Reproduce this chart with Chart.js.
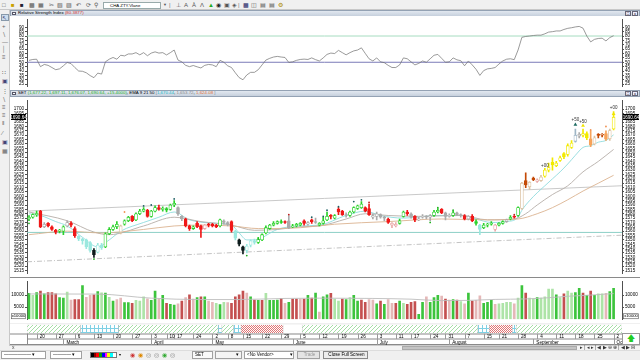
<!DOCTYPE html>
<html>
<head>
<meta charset="utf-8">
<script src="https://cdn.jsdelivr.net/npm/chart.js@4.4.0/dist/chart.umd.min.js"></script>
<style>
* { box-sizing: border-box; }
body { margin: 0; width: 640px; height: 360px; overflow: hidden; background: #f0f0f0; position: relative;
       font-family: "Liberation Sans", Arial, sans-serif; }
.a { position: absolute; }
canvas { position: absolute; background: #fff; }
.title { position: absolute; left: 10px; width: 630px; background: linear-gradient(#e2e8f0, #c6d0dd); border: 1px solid #94a2b4;
         font-size: 4.4px; line-height: 4.6px; white-space: nowrap; overflow: hidden; padding-left: 7px; }
.title .ic { position: absolute; left: 1px; top: 0.5px; width: 4px; height: 3.5px; border: 1px solid #556; background: #fff; }
.title .wb { position: absolute; top: 0px; width: 6px; height: 4.5px; border: 1px solid #667; background: #eef; font-size: 4px; line-height: 3px; text-align: center; }
.tb { position: absolute; top: 2px; font-size: 6px; line-height: 6px; color: #555; }
.lb { position: absolute; left: 2px; font-size: 6px; line-height: 6px; color: #666; }
.bt { position: absolute; top: 351px; height: 8px; border: 1px solid #a0a0a0; background: #fff; font-size: 4.5px; line-height: 6px; padding-left: 2px; white-space: nowrap; overflow: hidden; }
</style>
</head>
<body>

<!-- top toolbar -->
<div class="a" style="left:0;top:0;width:640px;height:10px;background:#f0f0f0;border-bottom:1px solid #c8c8c8"></div>
<span class="tb" style="left:2px">&#9633;</span>
<span class="tb" style="left:11px;color:#c9a000">&#9632;</span>
<span class="tb" style="left:20px;color:#223">&#9632;</span>
<span class="tb" style="left:29px">&#9641;</span>
<span class="tb" style="left:38px">&#9638;</span>
<span class="tb" style="left:49px">&#9986;</span>
<span class="tb" style="left:57px">&#9639;</span>
<span class="tb" style="left:66px">&#9640;</span>
<span class="tb" style="left:76px">&#8630;</span>
<span class="tb" style="left:86px">&#10227;</span>
<span class="tb" style="left:94px">&#9906;</span>
<div class="a" style="left:103px;top:2px;width:58px;height:7px;background:#fff;border:1px solid #9aa;font-size:4.4px;line-height:5px;padding-left:6px">CHA ZTY.Vlane</div>
<span class="tb" style="left:163px;font-size:4px">&#9660;</span>
<span class="tb" style="left:169px;color:#777">|</span>
<span class="tb" style="left:176px">&#8869;</span>
<span class="tb" style="left:184px">A</span>
<span class="tb" style="left:192px">&#192;</span>
<span class="tb" style="left:200px">&#923;</span>
<span class="tb" style="left:208px;color:#2a2">&#9650;</span>
<span class="tb" style="left:216px;color:#222">&#9673;</span>
<span class="tb" style="left:224px">&#9635;</span>
<span class="tb" style="left:232px">&#9672;</span>
<span class="tb" style="left:238px;color:#777">|</span>
<span class="tb" style="left:243px;color:#226">&#9641;</span>
<span class="tb" style="left:251px">&#9707;</span>
<span class="tb" style="left:260px">&#9636;</span>
<span class="tb" style="left:269px">&#9636;</span>
<span class="tb" style="left:278px;color:#a80">&#9881;</span>

<!-- left toolbar -->
<div class="a" style="left:0;top:10px;width:10px;height:336px;background:#f0f0f0;border-right:1px solid #c8c8c8"></div>
<div class="a" style="left:1px;top:14px;width:8px;height:7px;background:#cde;border:1px solid #89a"></div>
<span class="lb" style="top:15px;color:#336">&#8598;</span>
<span class="lb" style="top:23px">+</span>
<span class="lb" style="top:31px">&#8726;</span>
<span class="lb" style="top:39px">&#8212;</span>
<span class="lb" style="top:46px">&#9474;</span>
<span class="lb" style="top:54px">&#8801;</span>
<span class="lb" style="top:69px">&#8759;</span>
<span class="lb" style="top:78px;color:#447">&#9635;</span>
<span class="lb" style="top:88px">&#8942;</span>
<span class="lb" style="top:96px">&#8726;</span>
<span class="lb" style="top:104px">&#8801;</span>
<span class="lb" style="top:112px">&#8801;</span>
<span class="lb" style="top:120px">&#8214;</span>
<span class="lb" style="top:130px">&#8725;</span>
<span class="lb" style="top:139px;color:#447">&#9635;</span>
<span class="lb" style="top:148px">&#9638;</span>

<!-- panel titles -->
<div class="title" style="top:10px;height:6.5px"><span class="ic"></span>Relative Strength Index <span style="color:#d03030">(80.3877)</span>
  <span class="wb" style="left:614px">&#9633;</span><span class="wb" style="left:621px">x</span></div>
<div class="title" style="top:90px;height:7px"><span class="ic"></span>SET <span style="color:#22b022">(1,677.22, 1,697.11, 1,676.07, 1,690.64, +15.4000)</span>, EMA 9 21 50 <span style="color:#888">[</span><span style="color:#20b8c8">1,670.44</span>, <span style="color:#888">1,653.72</span>, <span style="color:#e07030">1,624.08</span> <span style="color:#888">]</span>
  <span class="wb" style="left:614px">&#9633;</span><span class="wb" style="left:621px">x</span></div>

<canvas id="rsi" width="630" height="74" style="left:10px;top:16px"></canvas>
<canvas id="price" width="630" height="180" style="left:10px;top:97px"></canvas>
<div class="a" style="left:10px;top:277px;width:630px;height:1px;background:#8a8a8a"></div>
<canvas id="vol" width="630" height="45" style="left:10px;top:278px"></canvas>
<canvas id="strip" width="630" height="21" style="left:10px;top:324px"></canvas>
<div class="a" style="left:622px;top:333px;width:18px;height:12px;background:#fff;border:1px solid #999;color:#22cc22;font-size:8px;line-height:10px;text-align:center">&#129093;</div>

<!-- scroll bar -->
<div class="a" style="left:10px;top:345px;width:630px;height:5px;background:#f4f4f4;border-top:1px solid #ccc"></div>
<span class="a" style="left:12px;top:344px;font-size:5px;color:#444">x</span>
<div class="a" style="left:402px;top:346px;width:175px;height:3.5px;background:#c4c4c4;border:1px solid #aaa"></div>
<div class="a" style="left:580px;top:344.5px;font-size:4.5px;color:#333;letter-spacing:1.2px">&#9656;|&#9666;&#9656;|&#9664;&#9654;&#8854;&#8853;|&#9664;&#9654;&#8863;</div>

<!-- bottom toolbar -->
<div class="a" style="left:0;top:350px;width:640px;height:10px;background:#f0f0f0;border-top:1px solid #ddd"></div>
<div class="bt" style="left:1px;width:45px">&#8212;&#8212;&#8212;&#8212;&#8212;&#8212; &#9662;</div>
<div class="bt" style="left:50px;width:32px">&#8212;&#8212;&#8212;&#8212; &#9662;</div>
<div class="a" style="left:90px;top:352px;width:27px;height:6px;background:linear-gradient(90deg,#000 0 11%,#800 11% 22%,#f00 22% 33%,#0a0 33% 44%,#00f 44% 55%,#f0f 55% 66%,#ff0 66% 77%,#0ff 77% 88%,#fff 88%);border:1px solid #777"></div>
<span class="a" style="left:119px;top:352px;font-size:4px">&#9662;</span>
<span class="a" style="left:130px;top:351px;font-size:6px;letter-spacing:3px;color:#c33">&#9673;<span style="color:#d80">&#9673;</span><span style="color:#888">&#9678;&#9678;</span><span style="color:#3a3">&#9673;</span><span style="color:#888">&#9678;</span></span>
<div class="bt" style="left:192px;width:21px;background:#fafafa">SET</div>
<div class="bt" style="left:215px;width:27px;background:#f4f4f4;text-align:right;padding-right:2px">&#9662;</div>
<div class="bt" style="left:244px;width:50px">&lt;No Vendor&gt; <span style="float:right">&#9662;</span></div>
<div class="bt" style="left:297px;width:23px;background:#e4e4e4;color:#999;text-align:center">Trade</div>
<div class="bt" style="left:323px;width:45px;background:#ececec;border-color:#888;text-align:center;font-size:4.6px">Close Full Screen</div>

<script>
// ---- data (SET index, daily, 16 Feb - 2 Oct) ----
const rsiVals = [
  52.2, 53.2, 53.5, 45, 47.5, 46.5, 44, 41.5, 42.5, 46,
  49.8, 48.5, 44, 40, 39.7, 38, 34.8, 32.4, 37.6, 36.5,
  50.5, 53.5, 55.5, 53.5, 58, 57.3, 59.5, 59.5, 61, 58.5,
  61, 57.5, 60.5, 61.9, 60.5, 61, 58.4, 61, 64, 52.5,
  50.5, 46.5, 45, 46.3, 44.8, 43.5, 46.5, 47.5, 47, 45,
  52.2, 50, 46, 44, 38, 32.5, 30, 35.5, 38.5, 38.5,
  41.5, 47, 52.5, 54.5, 56, 56.7, 56, 55.5, 49.8, 50.5,
  52.2, 53.2, 53.6, 53.2, 55, 53, 51.5, 55, 59, 60.5,
  60, 63.6, 61, 58.5, 61, 63, 64, 66.5, 60.2, 54,
  51.5, 55, 50.5, 49.5, 46.5, 44, 44, 47, 55, 54,
  50.5, 47, 48.7, 51.5, 50, 54, 58, 59, 54.5, 50,
  50.5, 55, 52.8, 51.8, 46, 51.5, 47, 42, 35, 40.5,
  42.5, 43, 44, 48, 51.5, 53.5, 54, 53, 64, 78.5,
  79.5, 80, 80.6, 81, 81, 82.5, 84.5, 85, 85.8, 85.8,
  87.5, 88.8, 89.5, 90.4, 91, 89, 79.9, 73.3, 76.2, 77.2,
  77.5, 74.4, 78.2, 80.39
];
const rsiUpper = 80;
const rsiMid = 50;

const openP = [
  1574, 1576, 1579, 1583, 1565, 1569, 1565, 1561, 1560, 1560,
  1566, 1569, 1563, 1554, 1551, 1550, 1547, 1538, 1536, 1544,
  1542, 1557, 1562, 1565, 1559, 1568, 1572, 1577, 1573, 1580,
  1583, 1584, 1577, 1583, 1587, 1585, 1586, 1585, 1590, 1587,
  1577, 1574, 1566, 1563, 1569, 1566, 1563, 1568, 1568, 1567,
  1566, 1572, 1570, 1571, 1560, 1550, 1542, 1538, 1544, 1549,
  1547, 1550, 1558, 1563, 1567, 1569, 1571, 1571, 1572, 1565,
  1566, 1567, 1572, 1568, 1573, 1571, 1567, 1569, 1573, 1578,
  1575, 1585, 1583, 1579, 1578, 1582, 1586, 1587, 1587, 1586,
  1576, 1577, 1579, 1576, 1574, 1567, 1566, 1569, 1577, 1582,
  1580, 1577, 1573, 1576, 1577, 1576, 1578, 1582, 1585, 1581,
  1577, 1578, 1581, 1579, 1578, 1574, 1577, 1571, 1567, 1564,
  1567, 1568, 1562, 1567, 1569, 1571, 1574, 1577, 1578, 1586,
  1618, 1611, 1621, 1617, 1618, 1623, 1630, 1639, 1635, 1641,
  1649, 1648, 1656, 1663, 1669, 1670, 1672, 1666, 1660, 1671,
  1670, 1672, 1666, 1677.22
];
const highP = [
  1578, 1580, 1583, 1584, 1570, 1570, 1566, 1562, 1562, 1566,
  1572, 1571, 1565, 1555, 1552, 1551, 1548, 1540, 1546, 1546,
  1558, 1564, 1567, 1571, 1567, 1573, 1577, 1578, 1581, 1585,
  1587, 1585, 1584, 1589, 1590, 1588, 1587, 1591, 1595, 1588,
  1578, 1575, 1567, 1566, 1571, 1567, 1568, 1569, 1569, 1568,
  1574, 1573, 1571, 1572, 1561, 1551, 1543, 1545, 1550, 1551,
  1553, 1557, 1566, 1568, 1571, 1572, 1573, 1572, 1578, 1568,
  1569, 1570, 1573, 1571, 1574, 1575, 1570, 1576, 1582, 1579,
  1579, 1587, 1584, 1581, 1583, 1588, 1590, 1594, 1588, 1591,
  1580, 1582, 1580, 1577, 1575, 1570, 1570, 1574, 1583, 1584,
  1581, 1578, 1576, 1579, 1578, 1579, 1584, 1586, 1586, 1582,
  1580, 1583, 1582, 1580, 1579, 1578, 1579, 1573, 1568, 1569,
  1569, 1571, 1568, 1570, 1572, 1574, 1578, 1578, 1588, 1616,
  1627, 1617, 1622, 1620, 1624, 1632, 1638, 1644, 1640, 1646,
  1650, 1660, 1664, 1677, 1673, 1677, 1674, 1675, 1669, 1672,
  1672, 1675, 1677, 1697.11
];
const lowP = [
  1572, 1575, 1577, 1564, 1564, 1565, 1561, 1557, 1558, 1556,
  1565, 1565, 1553, 1549, 1545, 1540, 1536, 1530, 1535, 1539,
  1541, 1556, 1561, 1563, 1557, 1567, 1571, 1571, 1572, 1579,
  1582, 1576, 1576, 1582, 1584, 1583, 1582, 1584, 1588, 1578,
  1572, 1565, 1561, 1562, 1564, 1553, 1562, 1565, 1565, 1564,
  1565, 1568, 1566, 1559, 1550, 1543, 1534, 1535, 1542, 1545,
  1546, 1549, 1557, 1562, 1566, 1568, 1569, 1569, 1563, 1564,
  1565, 1566, 1567, 1567, 1569, 1569, 1566, 1568, 1572, 1574,
  1574, 1579, 1578, 1576, 1577, 1581, 1585, 1586, 1582, 1578,
  1574, 1573, 1575, 1572, 1569, 1564, 1565, 1568, 1576, 1578,
  1575, 1571, 1572, 1575, 1574, 1572, 1577, 1581, 1580, 1573,
  1576, 1577, 1578, 1576, 1573, 1573, 1571, 1567, 1556, 1563,
  1565, 1567, 1560, 1566, 1568, 1570, 1573, 1575, 1577, 1585,
  1610, 1608, 1618, 1616, 1617, 1622, 1628, 1630, 1634, 1640,
  1643, 1646, 1655, 1662, 1667, 1668, 1665, 1657, 1659, 1667,
  1668, 1664, 1664, 1676.07
];
const closeP = [
  1576, 1579, 1580, 1565, 1568, 1566, 1562, 1559, 1561, 1565,
  1570, 1567, 1555, 1551, 1549, 1542, 1538, 1533, 1544, 1541,
  1557, 1562, 1565, 1568, 1566, 1572, 1576, 1572, 1580, 1583,
  1585, 1577, 1583, 1587, 1585, 1586, 1584, 1590, 1592, 1580,
  1574, 1566, 1563, 1565, 1565, 1562, 1567, 1567, 1566, 1565,
  1573, 1570, 1568, 1561, 1552, 1545, 1538, 1543, 1549, 1547,
  1551, 1556, 1564, 1567, 1569, 1571, 1570, 1570, 1564, 1566,
  1568, 1569, 1569, 1570, 1571, 1570, 1569, 1572, 1577, 1577,
  1578, 1582, 1579, 1578, 1582, 1587, 1589, 1591, 1583, 1579,
  1578, 1580, 1576, 1575, 1570, 1569, 1568, 1572, 1582, 1580,
  1576, 1573, 1574, 1577, 1576, 1578, 1582, 1584, 1581, 1577,
  1578, 1581, 1579, 1578, 1574, 1577, 1572, 1569, 1562, 1567,
  1568, 1569, 1567, 1569, 1571, 1573, 1576, 1576, 1587, 1615,
  1613, 1616, 1619, 1619, 1622, 1630, 1633, 1636, 1638, 1644,
  1645, 1658, 1661, 1670, 1671, 1672, 1667, 1659, 1667, 1669.7,
  1670.5, 1665.5, 1675.24, 1690.64
];
// colour zone of each candle: g green, r red, c cyan, k black, a grey, b beige,
// p pink, y yellow, d dark orange, o orange, t steel blue
const candleZone = ("gggrarrrgg" + "arrcccckcc" + "ggggbggrgg" + "grggrgggga" + "arrgrrprrr" +
  "gaarckkccc" + "gggggggrag" + "ggraragggr" + "grraggggrr" + "aaaarppggr" +
  "araaaaggra" + "agaarargcg" + "ggpggagrgb" + "dbdpbyyyyy" + "yyytayyobd" + "doby").split("");

// moving averages, read at turning points
const ema9Idx = [0, 3, 7, 10, 14, 18, 21, 24, 30, 34, 38, 42, 49, 53, 55, 57, 60, 62, 65, 71, 76, 83, 88, 92, 98, 107, 113, 117, 121, 125, 128, 129, 131, 133, 135, 137, 139, 141, 143, 145, 147, 149, 151, 153];
const ema9Val = [1580, 1578, 1571, 1566, 1553, 1542, 1550, 1560, 1570, 1576, 1582, 1573, 1569, 1567, 1558, 1550, 1550, 1555, 1562, 1566, 1567, 1578, 1583, 1578, 1575, 1578, 1578, 1574, 1570, 1571, 1576, 1584, 1595, 1604, 1612, 1620, 1628, 1637, 1647, 1656, 1658, 1662, 1664, 1670.44];
const ema21Idx = [0, 10, 17, 21, 30, 38, 45, 53, 59, 65, 71, 76, 83, 88, 94, 102, 113, 120, 127, 130, 133, 137, 141, 145, 149, 153];
const ema21Val = [1582, 1572, 1559, 1556, 1566, 1576, 1571, 1567, 1561, 1562, 1565, 1566, 1574, 1580, 1578, 1577, 1578, 1573, 1574, 1580, 1590, 1602, 1612, 1628, 1640, 1653.72];
const ema50Idx = [0, 10, 19, 30, 38, 45, 53, 60, 71, 80, 94, 108, 120, 128, 133, 137, 141, 145, 149, 153];
const ema50Val = [1556, 1560, 1558, 1562, 1566, 1567, 1566, 1563, 1564, 1568, 1571, 1574, 1573, 1574, 1580, 1587, 1596, 1606, 1615, 1624.08];

// drawn trend lines (start / end)
const trendIdx = [-0.52, 155.2];
const upperTrend = [1583.0, 1612.1];
const lowerTrend = [1524.9, 1555.4];
const supportLevel = 1558.6;

// signal dots, arrows and labels
const dotIdx = [0, 17, 25, 30, 32, 38, 57, 60, 68, 74, 77, 78, 81, 85, 87, 89, 105, 107, 111, 127, 147, 151];
const dotPrice = [1569, 1528, 1582, 1589, 1590, 1597, 1532, 1551, 1579, 1576, 1577, 1584, 1588, 1594, 1596, 1593, 1570, 1587, 1584, 1579, 1676, 1680];
const dotZone = ["g", "g", "o", "t", "t", "t", "g", "g", "r", "t", "t", "t", "t", "t", "t", "r", "g", "g", "g", "r", "o", "o"];
const arrowIdx = [143, 145, 153];
const arrowPrice = [1682, 1681, 1694.5];
const arrowZone = ["t", "y", "y"];
const noteIdx = [135, 143, 145, 153];
const notePrice = [1635, 1688, 1685, 1701];
const noteText = ["+00", "+50", "+50", "+00"];

const volume = [
  10700, 9880, 11050, 11630, 10460, 11050, 11050, 10460, 8960, 8720,
  11280, 7910, 8140, 8140, 13940, 9070, 9880, 10110, 11390, 10930,
  10810, 9070, 7560, 8140, 8720, 6870, 6870, 6630, 7790, 7560,
  9300, 8490, 7790, 11630, 8370, 9880, 6630, 6170, 5820, 6400,
  7560, 8960, 10110, 8370, 8960, 9300, 9300, 7560, 6980, 6630,
  6050, 6980, 6870, 6630, 9300, 10110, 11630, 10810, 9300, 7910,
  7790, 7790, 10700, 7790, 7790, 7910, 8600, 6630, 6980, 8370,
  8370, 8370, 8370, 9880, 8720, 10810,
  2920, 9300, 10110, 10700, 8370, 7560, 8370, 8140, 8960, 9880,
  7560, 7910, 6980, 8140, 7910, 6400, 7560, 6170, 8140, 6630,
  6630, 7560, 6630, 6170, 6980, 7330, 2000, 6980, 9300, 6980,
  8960, 9880, 9540, 8370, 7910, 8140, 7910, 7330, 6400, 10810,
  7560, 7790, 9650, 6630, 6980, 7790, 6170, 6400, 6630, 6980,
  6980, 6400, 8720, 13940, 10810, 8720, 8490, 8960, 8720, 9300,
  12440, 12440, 10110, 8960, 10460, 11630, 10810, 11050, 12790, 10810,
  9880, 11630, 9880, 10460, 10460, 10700, 11390, 12790
];
// g up, l up (light), r down, p down (light)
const volZone = ("glgrgrrrgg" + "lprrgpprgl" + "glgppggrll" + "lpggpgrggp" + "rprpgrgppl" +
  "glprrrrpgr" + "grlgggrpgr" + "rprgrg" +
  "pggrllrglg" + "grrppgrgpp" + "rglrrrggpg" + "ggprpgrlpg" + "rppgggplll" +
  "lplgrllgll" + "llglrllggr" + "grgllpgg").split("");
const volAvgIdx = [0, 18, 32, 45, 54, 67, 76, 90, 100, 108, 115, 122, 130, 136, 141, 146, 153];
const volAvgVal = [10460, 10400, 8720, 8140, 8140, 8600, 8720, 8600, 8300, 7700, 7800, 8200, 8400, 8900, 9500, 9900, 10600];

// trend strip under the volume: G up, C neutral, R down, N none
const stripFrom = [-0.52, 13.5, 23.5, 49.5, 50.5, 53.5, 55.5, 66.5, 71.5, 117.5, 120.5, 126.5, 127.5];
const stripTo = [13.5, 23.5, 49.5, 50.5, 53.5, 55.5, 66.5, 71.5, 117.5, 120.5, 126.5, 127.5, 155.2];
const stripKind = ["G", "C", "G", "C", "G", "C", "R", "N", "G", "C", "R", "C", "G"];

// date axis
const weekIdx = [2, 7, 12, 17, 22, 27, 32, 36, 38, 43, 48, 52, 56, 61, 66, 71, 76, 81, 86, 91, 96, 100, 105, 109, 114, 119, 123, 128, 133, 138, 143, 148, 153];
const weekLbl = ["20", "27", "6", "13", "20", "27", "3", "10", "17", "24", "2", "8", "15", "22", "29", "5", "12", "19", "26", "3", "11", "17", "24", "31", "7", "15", "21", "28", "4", "11", "18", "25", "2"];
const monthIdx = [9, 32, 48, 69, 91, 110, 132, 153];
const monthLbl = ["March", "April", "May", "June", "July", "August", "September", "October"];

const rsiTicks = [25, 30, 35, 40, 45, 50, 55, 60, 65, 70, 75, 80, 85, 90];
const priceTicks = [1515, 1520, 1525, 1530, 1535, 1540, 1545, 1550, 1555, 1560, 1565, 1570, 1575, 1580, 1585,
  1590, 1595, 1600, 1605, 1610, 1615, 1620, 1625, 1630, 1635, 1640, 1645, 1650, 1655, 1660, 1665, 1670,
  1675, 1680, 1685, 1690, 1695, 1700];
const volTicks = [5000, 10000];

// ---- styles ----
const zoneColor = {
  g: "#2ad22a", r: "#f01818", c: "#9be8df", k: "#0c1a1a", a: "#ababab", b: "#dcc3a4",
  p: "#eaa9a9", y: "#f2ea00", d: "#c44a06", o: "#f7a35a", t: "#9fb6c6"
};
const dotColor = { g: "#22b022", o: "#f09050", t: "#1d5f62", r: "#c02020", y: "#e8e000" };
const volColor = { g: "#3cc43c", l: "#ade4a7", r: "#c45050", p: "#e5b8b8" };

Chart.defaults.font.family = '"Liberation Sans", Arial, sans-serif';
Chart.defaults.font.size = 5;
Chart.defaults.color = "#000";
Chart.defaults.animation = false;
Chart.defaults.plugins.legend.display = false;
Chart.defaults.plugins.tooltip.enabled = false;

const X_MIN = -0.52, X_MAX = 155.2;
const xScale = { type: "linear", min: X_MIN, max: X_MAX, display: false, offset: false };

function yAxis(pos, min, max, ticks) {
  return {
    type: "linear", position: pos, min: min, max: max,
    afterBuildTicks: s => { s.ticks = ticks.map(v => ({ value: v })); },
    afterFit: s => { s.width = pos === "left" ? 17 : 18; },
    grid: { drawOnChartArea: false, tickLength: 2, color: "#505050" },
    border: { color: "#505050" },
    ticks: { autoSkip: false, padding: 1, font: { size: 4.6 }, callback: v => String(v) }
  };
}

const pts = (xs, ys) => xs.map((x, i) => ({ x: x, y: ys[i] }));
const flat = (v) => [{ x: X_MIN, y: v }, { x: X_MAX, y: v }];
const base = { responsive: false, layout: { padding: 0, autoPadding: false } };

// ---- RSI ----
new Chart(document.getElementById("rsi"), {
  type: "line",
  data: {
    datasets: [
      { data: rsiVals.map((v, i) => ({ x: i, y: v })), borderColor: "#6e6e6e", borderWidth: 0.7, pointRadius: 0 },
      { data: flat(rsiUpper), borderColor: "#a6dcc0", borderWidth: 1, pointRadius: 0 },
      { data: flat(rsiMid), borderColor: "#7b7bb8", borderWidth: 1, pointRadius: 0 }
    ]
  },
  options: Object.assign({}, base, {
    scales: { x: xScale, y: yAxis("left", 22.6, 98.6, rsiTicks), y2: yAxis("right", 22.6, 98.6, rsiTicks) }
  })
});

// ---- price ----
const n = closeP.length;
const idx = closeP.map((_, i) => i);
const isUp = i => closeP[i] >= openP[i];

const notesPlugin = {
  id: "notes",
  afterDatasetsDraw(chart) {
    const { ctx, scales: { x, y } } = chart;
    ctx.save();
    ctx.font = '4.5px "Liberation Sans", Arial';
    ctx.fillStyle = "#333";
    ctx.textAlign = "center";
    ctx.textBaseline = "middle";
    noteIdx.forEach((v, k) => ctx.fillText(noteText[k], x.getPixelForValue(v), y.getPixelForValue(notePrice[k])));
    ctx.restore();
  },
  afterDraw(chart) {
    const { ctx, chartArea, scales: { y } } = chart;
    const last = closeP[n - 1];
    const py = Math.round(y.getPixelForValue(last));
    ctx.save();
    ctx.font = '4.6px "Liberation Sans", Arial';
    ctx.textBaseline = "middle";
    ctx.textAlign = "center";
    [[1, chartArea.left - 1], [chartArea.right + 1, chart.width - 1]].forEach(([a, b]) => {
      ctx.fillStyle = "#000";
      ctx.fillRect(a, py - 3, b - a, 6);
      ctx.fillStyle = "#fff";
      ctx.fillText(last.toFixed(2), (a + b) / 2, py + 0.3);
    });
    ctx.restore();
  }
};

new Chart(document.getElementById("price"), {
  type: "bar",
  data: {
    datasets: [
      { type: "line", order: 20, data: pts(trendIdx, upperTrend), borderColor: "#bbbbbb", borderWidth: 0.8, pointRadius: 0 },
      { type: "line", order: 20, data: pts(trendIdx, lowerTrend), borderColor: "#b4b4b4", borderWidth: 0.8, borderDash: [5, 2, 1, 2], pointRadius: 0 },
      { type: "line", order: 20, data: flat(supportLevel), borderColor: "#8ccfc6", borderWidth: 1, pointRadius: 0 },
      { type: "line", order: 10, data: pts(ema50Idx, ema50Val), borderColor: "#dbb391", borderWidth: 0.9, pointRadius: 0, cubicInterpolationMode: "monotone" },
      { type: "line", order: 10, data: pts(ema21Idx, ema21Val), borderColor: "#b6aea8", borderWidth: 0.9, pointRadius: 0, cubicInterpolationMode: "monotone" },
      { type: "line", order: 10, data: pts(ema9Idx, ema9Val), borderColor: "#8edbde", borderWidth: 0.9, pointRadius: 0, cubicInterpolationMode: "monotone" },
      { order: 3, grouped: false, barThickness: 1, minBarLength: 1,
        data: idx.map(i => ({ x: i, y: [lowP[i], highP[i]] })),
        backgroundColor: idx.map(i => zoneColor[candleZone[i]]) },
      { order: 2, grouped: false, barThickness: 3, minBarLength: 1, borderWidth: 0.8, borderSkipped: false,
        data: idx.map(i => ({ x: i, y: [Math.min(openP[i], closeP[i]), Math.max(openP[i], closeP[i])] })),
        backgroundColor: idx.map(i => isUp(i) ? "#ffffff" : zoneColor[candleZone[i]]),
        borderColor: idx.map(i => zoneColor[candleZone[i]]) },
      { type: "line", order: 1, showLine: false, data: pts(dotIdx, dotPrice),
        pointRadius: 0.9, pointBorderWidth: 0, pointBackgroundColor: dotZone.map(z => dotColor[z]) },
      { type: "line", order: 1, showLine: false, data: pts(arrowIdx, arrowPrice), pointStyle: "triangle",
        pointRadius: 2.2, pointBorderWidth: 0, pointBackgroundColor: arrowZone.map(z => z === "t" ? "#1d6b62" : "#f0e400") }
    ]
  },
  options: Object.assign({}, base, {
    scales: { x: xScale, y: yAxis("left", 1511.8, 1709.5, priceTicks), y2: yAxis("right", 1511.8, 1709.5, priceTicks) }
  }),
  plugins: [notesPlugin]
});

// ---- volume ----
const volBox = {
  id: "volBox",
  afterDraw(chart) {
    const { ctx, chartArea } = chart;
    ctx.save();
    ctx.font = '4.2px "Liberation Sans", Arial';
    ctx.textAlign = "center";
    ctx.textBaseline = "middle";
    const yb = chartArea.bottom - 3;
    [[1, chartArea.left - 1], [chartArea.right + 1, chart.width - 1]].forEach(([a, b]) => {
      ctx.fillStyle = "#fff";
      ctx.fillRect(a, yb - 2.5, b - a, 5);
      ctx.strokeStyle = "#555";
      ctx.lineWidth = 0.6;
      ctx.strokeRect(a + 0.5, yb - 2.5, b - a - 1, 5);
      ctx.fillStyle = "#000";
      ctx.fillText("x10000", (a + b) / 2, yb);
    });
    ctx.restore();
  }
};

new Chart(document.getElementById("vol"), {
  type: "bar",
  data: {
    datasets: [
      { type: "line", order: 1, data: pts(volAvgIdx, volAvgVal), borderColor: "#bdbdbd", borderWidth: 0.9, pointRadius: 0, cubicInterpolationMode: "monotone" },
      { order: 2, barThickness: 2, data: volume.map((v, i) => ({ x: i, y: v })),
        backgroundColor: volZone.map(z => volColor[z]) }
    ]
  },
  options: Object.assign({}, base, {
    scales: { x: xScale, y: yAxis("left", 0, 15500, volTicks), y2: yAxis("right", 0, 15500, volTicks) }
  }),
  plugins: [volBox]
});

// ---- trend strip + dates ----
function pattern(kind) {
  const c = document.createElement("canvas");
  c.width = 4; c.height = 4;
  const g = c.getContext("2d");
  g.fillStyle = "#fff";
  g.fillRect(0, 0, 4, 4);
  if (kind === "G") {
    g.fillStyle = "#a6dea6";
    for (let k = 0; k < 4; k++) g.fillRect(k, 3 - k, 1, 1);
  } else if (kind === "C") {
    g.fillStyle = "#7fd0e4";
    g.fillRect(0, 0, 4, 1);
    g.fillRect(0, 0, 1, 4);
  } else if (kind === "R") {
    g.fillStyle = "#e07474";
    g.fillRect(0, 0, 1, 1); g.fillRect(2, 0, 1, 1); g.fillRect(1, 1, 1, 1); g.fillRect(3, 1, 1, 1);
    g.fillRect(0, 2, 1, 1); g.fillRect(2, 2, 1, 1); g.fillRect(1, 3, 1, 1); g.fillRect(3, 3, 1, 1);
  }
  return g.createPattern(c, "repeat");
}
const fills = { G: pattern("G"), C: pattern("C"), R: pattern("R"), N: "#ffffff" };

const dateRows = {
  id: "dateRows",
  afterDraw(chart) {
    const { ctx, chartArea, scales: { x } } = chart;
    const top = chartArea.bottom, h = chart.height - top;
    ctx.save();
    ctx.fillStyle = "#fff";
    ctx.fillRect(0, top, chartArea.right, h);
    ctx.strokeStyle = "#8a8a8a";
    ctx.lineWidth = 1;
    ctx.beginPath();
    ctx.moveTo(0, top + 0.5); ctx.lineTo(chartArea.right, top + 0.5);
    ctx.moveTo(chartArea.left, top + 5.5); ctx.lineTo(chartArea.right, top + 5.5);
    ctx.moveTo(0, chart.height - 0.5); ctx.lineTo(chartArea.right, chart.height - 0.5);
    ctx.moveTo(chartArea.left + 0.5, top); ctx.lineTo(chartArea.left + 0.5, chart.height);
    ctx.stroke();
    ctx.beginPath();
    ctx.rect(chartArea.left, top, chartArea.right - chartArea.left, h);
    ctx.clip();
    ctx.font = '4.6px "Liberation Sans", Arial';
    ctx.fillStyle = "#000";
    ctx.textBaseline = "middle";
    ctx.strokeStyle = "#9a9a9a";
    ctx.beginPath();
    weekIdx.forEach(v => {
      const px = Math.round(x.getPixelForValue(v)) + 0.5;
      ctx.moveTo(px, top); ctx.lineTo(px, top + 5.5);
    });
    monthIdx.forEach(v => {
      const px = Math.round(x.getPixelForValue(v)) + 0.5;
      ctx.moveTo(px, top + 5.5); ctx.lineTo(px, chart.height);
    });
    ctx.stroke();
    weekIdx.forEach((v, k) => ctx.fillText(weekLbl[k], x.getPixelForValue(v) + 3, top + 3.3));
    monthIdx.forEach((v, k) => ctx.fillText(monthLbl[k], x.getPixelForValue(v) + 3, top + 8.8));
    ctx.restore();
  }
};

new Chart(document.getElementById("strip"), {
  type: "bar",
  data: {
    datasets: [{
      barThickness: 8.5, grouped: false,
      data: stripFrom.map((s, k) => ({ x: [s, stripTo[k]], y: 0 })),
      backgroundColor: stripKind.map(k => fills[k]),
      borderColor: "#b8b8b8", borderWidth: 0.5, borderSkipped: false
    }]
  },
  options: {
    responsive: false, indexAxis: "y",
    layout: { padding: { left: 17, right: 18, top: 0.5, bottom: 11.5 }, autoPadding: false },
    scales: {
      x: { type: "linear", min: X_MIN, max: X_MAX, display: false, offset: false },
      y: { type: "linear", min: -0.5, max: 0.5, display: false, offset: false }
    }
  },
  plugins: [dateRows]
});
</script>
</body>
</html>
